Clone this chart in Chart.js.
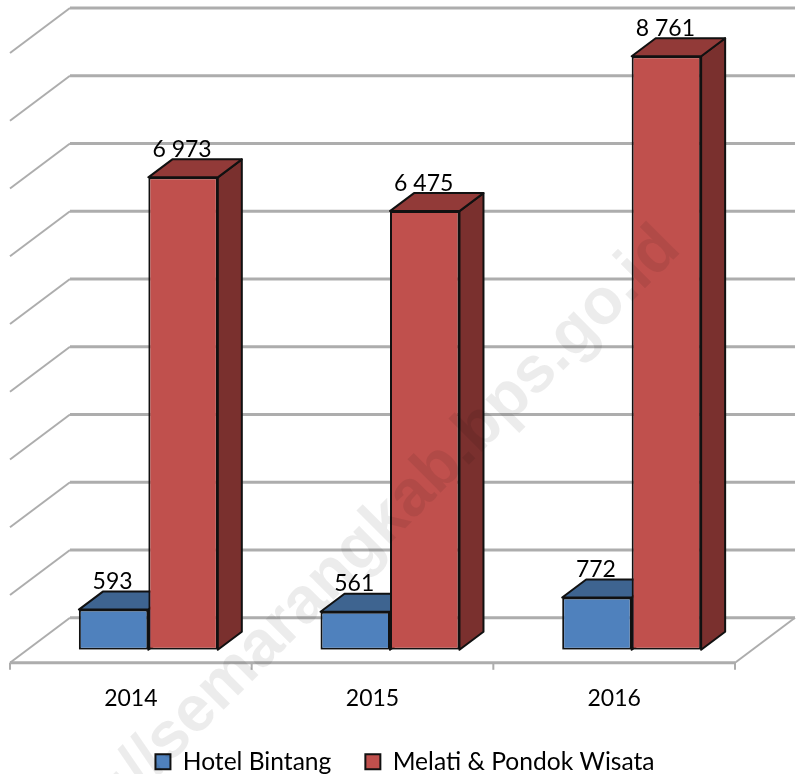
<!DOCTYPE html>
<html>
<head>
<meta charset="utf-8">
<style>
  html, body { margin: 0; padding: 0; background: #fff; }
  #wrap { width: 796px; height: 774px; }
</style>
<script src="https://cdn.jsdelivr.net/npm/chart.js@4"></script>
</head>
<body>
<div id="wrap"><canvas id="barChart" width="796" height="774"></canvas></div>
<script>
const categories = ['2014', '2015', '2016'];
const hotelBintang = [593, 561, 772];
const melatiPondok = [6973, 6475, 8761];
const yTicks = [0, 1000, 2000, 3000, 4000, 5000, 6000, 7000, 8000, 9000];

// the bars sit on a plane inside the 3D floor, these are the offsets to the other planes
const frontX = -17.5, frontY = 13;
const backX = 42.5, backY = -32;
const barDepthX = 24, barDepthY = -18;

const wallColor = '#adadad';
const fontName = 'Lato, "Open Sans", sans-serif';

function spaced(v) {
    return String(v).replace(/\B(?=(\d{3})+$)/g, ' ');
}

// the watermark lies over the whole picture, it darkens the bars too
const watermark = {
    id: 'watermark',
    afterDraw(chart) {
        const c = chart.ctx;
        c.save();
        c.translate(670, 238);
        c.rotate(-Math.PI / 4);
        c.font = 'bold 65px "Liberation Sans", Arial, sans-serif';
        c.fillStyle = 'rgba(0, 0, 0, 0.075)';
        c.textAlign = 'right';
        c.textBaseline = 'middle';
        c.fillText('http://semarangkab.bps.go.id', 0, 0);
        c.restore();
    }
};

// walls, floor and axis of the 3D box
const walls = {
    id: 'walls',
    beforeDatasetsDraw(chart) {
        const c = chart.ctx, y = chart.scales.y, x = chart.scales.x;
        const left = x.left + frontX, right = x.right + frontX;
        c.save();
        c.strokeStyle = wallColor;
        c.lineWidth = 3;
        yTicks.forEach(t => {
            const py = y.getPixelForValue(t) + backY;
            c.beginPath();
            c.moveTo(x.left + backX, py);
            c.lineTo(x.right + backX, py);
            c.stroke();
        });
        c.lineWidth = 2;
        yTicks.forEach(t => {
            const py = y.getPixelForValue(t);
            c.beginPath();
            c.moveTo(left, py + frontY);
            c.lineTo(x.left + backX, py + backY);
            c.stroke();
        });
        const base = y.getPixelForValue(0);
        c.beginPath();
        c.moveTo(right, base + frontY);
        c.lineTo(x.right + backX, base + backY);
        c.stroke();
        c.lineWidth = 3;
        c.beginPath();
        c.moveTo(left, base + frontY);
        c.lineTo(right, base + frontY);
        c.stroke();
        c.lineWidth = 2;
        const step = (right - left) / categories.length;
        for (let i = 0; i <= categories.length; i++) {
            c.beginPath();
            c.moveTo(left + step * i, base + frontY);
            c.lineTo(left + step * i, base + frontY + 7);
            c.stroke();
        }
        c.restore();
    }
};

// tops and sides of the bars, the front faces are the normal chart.js bars
const bars3d = {
    id: 'bars3d',
    beforeDatasetsDraw(chart) {
        const c = chart.ctx;
        const tops = ['#3e6490', '#923a38'];
        const sides = ['#37587f', '#7a302e'];
        c.save();
        c.strokeStyle = '#111';
        c.lineWidth = 2;
        c.lineJoin = 'round';
        chart.data.datasets.forEach((ds, i) => {
            chart.getDatasetMeta(i).data.forEach(bar => {
                const l = bar.x - bar.width / 2, r = bar.x + bar.width / 2;
                const t = bar.y, b = bar.base;
                c.fillStyle = sides[i];
                c.beginPath();
                c.moveTo(r, t);
                c.lineTo(r + barDepthX, t + barDepthY);
                c.lineTo(r + barDepthX, b + barDepthY);
                c.lineTo(r, b);
                c.closePath();
                c.fill();
                c.stroke();
                c.fillStyle = tops[i];
                c.beginPath();
                c.moveTo(l, t);
                c.lineTo(l + barDepthX, t + barDepthY);
                c.lineTo(r + barDepthX, t + barDepthY);
                c.lineTo(r, t);
                c.closePath();
                c.fill();
                c.stroke();
            });
        });
        c.restore();
    }
};

const valueLabels = {
    id: 'valueLabels',
    afterDatasetsDraw(chart) {
        const c = chart.ctx;
        c.save();
        c.font = '23px ' + fontName;
        c.fillStyle = '#000';
        c.textAlign = 'center';
        c.textBaseline = 'middle';
        chart.data.datasets.forEach((ds, i) => {
            chart.getDatasetMeta(i).data.forEach((bar, j) => {
                c.fillText(spaced(ds.data[j]), bar.x - 1, bar.y - 28);
            });
        });
        c.restore();
    }
};

// legend sits right of the page centre in the original and has wide gaps
const moveLegend = {
    id: 'moveLegend',
    afterLayout(chart) {
        chart.legend.left += 15;
        chart.legend.right += 15;
        chart.legend.top -= 24;
        chart.legend.bottom -= 24;
    }
};

const barChart = new Chart(document.getElementById('barChart'), {
    type: 'bar',
    data: {
        labels: categories,
        datasets: [{
            label: 'Hotel Bintang',
            data: hotelBintang,
            backgroundColor: '#4f81bd',
            borderColor: '#111',
            borderWidth: 2,
            borderSkipped: false
        }, {
            label: 'Melati & Pondok Wisata',
            data: melatiPondok,
            backgroundColor: '#c0504d',
            borderColor: '#111',
            borderWidth: 2,
            borderSkipped: false
        }]
    },
    options: {
        responsive: false,
        animation: false,
        categoryPercentage: 0.575,
        barPercentage: 1,
        layout: { padding: { left: 27.5, right: 43.5, top: 40, bottom: -34 } },
        scales: {
            x: {
                grid: { display: false },
                border: { display: false },
                ticks: {
                    labelOffset: frontX,
                    padding: 27,
                    color: '#000',
                    maxRotation: 0,
                    font: { family: fontName, size: 23 }
                }
            },
            y: {
                display: false,
                min: 0,
                max: 9000,
                ticks: { stepSize: 1000 }
            }
        },
        plugins: {
            tooltip: { enabled: false },
            legend: {
                position: 'bottom',
                labels: {
                    boxWidth: 15,
                    boxHeight: 15,
                    color: '#000',
                    padding: 34,
                    font: { family: fontName, size: 24.6 }
                }
            }
        }
    },
    plugins: [walls, bars3d, valueLabels, moveLegend, watermark]
});
</script>
</body>
</html>
